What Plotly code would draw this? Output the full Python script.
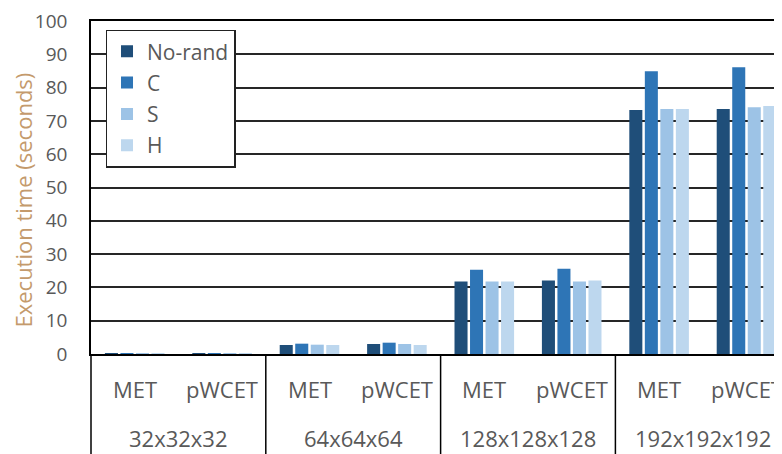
import plotly.graph_objects as go

groups = ["32x32x32", "64x64x64", "128x128x128", "192x192x192"]
subcats = ["MET", "pWCET"]
series_names = ["No-rand", "C", "S", "H"]
series_colors = ["#1f4e79", "#2e75b6", "#9dc3e6", "#bdd7ee"]

# values per (group, subcat) in order: 32 MET, 32 pWCET, 64 MET, 64 pWCET, ...
no_rand = [0.1, 0.2, 2.7, 3.0, 21.8, 22.1, 73.3, 73.6]
c_vals = [0.1, 0.2, 3.1, 3.4, 25.3, 25.6, 84.9, 86.1]
s_vals = [0.1, 0.3, 2.8, 3.0, 21.8, 21.8, 73.6, 74.1]
h_vals = [0.1, 0.3, 2.7, 2.7, 21.8, 22.1, 73.6, 74.5]
series_values = [no_rand, c_vals, s_vals, h_vals]

y_ticks = list(range(0, 101, 10))

x_pos = list(range(len(groups) * len(subcats)))
sub_labels = [s for g in groups for s in subcats]

FONT = "Open Sans"
GRAY = "#595959"

fig = go.Figure()
for name, color, vals in zip(series_names, series_colors, series_values):
    fig.add_trace(go.Bar(x=x_pos, y=vals, name=name, marker_color=color,
                         marker_line_width=0, legendgroup=name))

ML = 83
FIG_W = 774
plot_w = FIG_W - ML
sub_px = 87.4
x_max = -0.5 + plot_w / sub_px

fig.update_layout(
    width=FIG_W, height=446,
    margin=dict(l=ML, r=0, t=7, b=100),
    paper_bgcolor="white", plot_bgcolor="white",
    barmode="group", bargap=0.29, bargroupgap=0.16,
    font=dict(family=FONT, color=GRAY, size=19),
    showlegend=True,
    legend=dict(x=0.021, y=0.974, xanchor="left", yanchor="top",
                bordercolor="#222222", borderwidth=1.5, bgcolor="white",
                font=dict(size=21, color=GRAY), tracegroupgap=1,
                itemwidth=30),
    xaxis=dict(range=[-0.5, x_max], showticklabels=False, showgrid=False,
               showline=True, linecolor="black", linewidth=1.5, mirror=True,
               zeroline=False, ticks=""),
    yaxis=dict(range=[0, 100], tickvals=y_ticks, showgrid=True,
               gridcolor="#262626", gridwidth=1.5, showline=True,
               linecolor="black", linewidth=1.5, zeroline=False,
               ticks="", ticklabelstandoff=18, ticklabeloverflow="allow",
               tickfont=dict(size=19, color=GRAY)),
)

# y-axis title
fig.add_annotation(text="Execution time (seconds)", xref="paper", yref="paper",
                   x=0, y=0.5, xshift=-69, yshift=-13, textangle=-90, showarrow=False,
                   xanchor="center", yanchor="middle",
                   font=dict(size=22, color="#c49a6c", family=FONT))

# subcategory labels
for xp, lab in zip(x_pos, sub_labels):
    fig.add_annotation(text=lab, x=xp, xref="x", y=0, yref="paper", yshift=-35,
                       showarrow=False, yanchor="middle",
                       font=dict(size=22, color=GRAY))
# group labels and dividers
n_sub = len(subcats)
for gi, g in enumerate(groups):
    center = gi * n_sub + (n_sub - 1) / 2
    fig.add_annotation(text=g, x=center, xref="x", y=0, yref="paper", yshift=-84,
                       showarrow=False, yanchor="middle",
                       font=dict(size=22, color=GRAY))
    edge = gi * n_sub - 0.5
    if gi == 0:
        fig.add_shape(type="line", xref="paper", x0=0, x1=0, yref="paper",
                      y0=0, y1=-0.31, line=dict(color="black", width=1.5))
    else:
        fig.add_shape(type="line", xref="x", x0=edge, x1=edge, yref="paper",
                      y0=0, y1=-0.31, line=dict(color="black", width=1.5))

fig.write_html("out.html")
